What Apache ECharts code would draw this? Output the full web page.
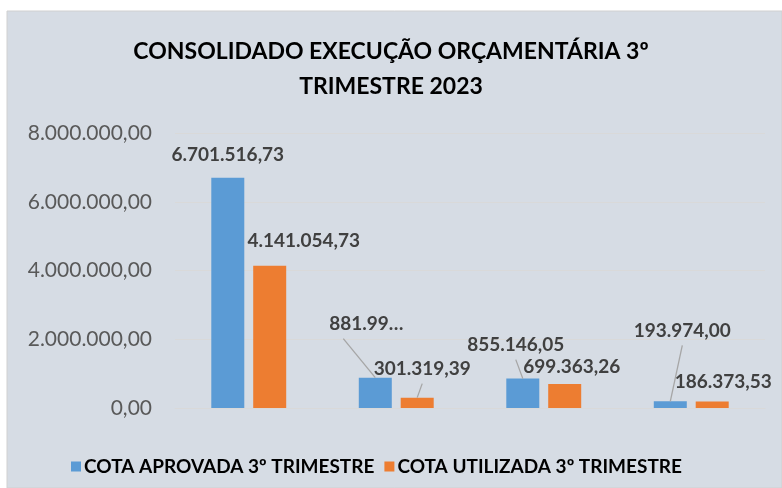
<!DOCTYPE html>
<html>
<head>
<meta charset="utf-8">
<script src="https://cdn.jsdelivr.net/npm/echarts@6/dist/echarts.min.js"></script>
<style>
  html, body { margin: 0; padding: 0; background: #fff; }
  #chart { width: 782px; height: 488px; }
</style>
</head>
<body>
<div id="chart"></div>
<script>
// dados do gráfico
var categorias = ['1', '2', '3', '4'];
var cotaAprovada = [6701516.73, 881990.00, 855146.05, 193974.00];
var cotaUtilizada = [4141054.73, 301319.39, 699363.26, 186373.53];
var rotuloAprovada = ['6.701.516,73', '881.99…', '855.146,05', '193.974,00'];
var rotuloUtilizada = ['4.141.054,73', '301.319,39', '699.363,26', '186.373,53'];
var nomesSeries = ['COTA APROVADA 3º TRIMESTRE', 'COTA UTILIZADA 3º TRIMESTRE'];

// deslocamento dos rótulos: [dx, dy, linha guia?, deslocamento x do início da linha]
var ajustes = [
  [[0, 0, false, 0], [-9, -31, true, -23], [-7, -11, true, 0], [12, -48, true, 0]],
  [[34, -2, false, 0], [5, -6, true, 0], [7, 5, false, 0], [11, 3, false, 0]]
];

var FONTE = 'Lato, "Noto Sans", sans-serif';
var LARG_BARRA = 33;
var GAP_BARRA = 0.27;
var DIST_ROTULO = 13;

function fmtBR(v) {
  var p = v.toFixed(2).split('.');
  return p[0].replace(/\B(?=(\d{3})+(?!\d))/g, '.') + ',' + p[1];
}

function montaDados(valores, rotulos) {
  return valores.map(function (v, i) {
    return { value: v, label: { formatter: rotulos[i] } };
  });
}

function layoutRotulo(params) {
  var a = ajustes[params.seriesIndex][params.dataIndex];
  return { dx: a[0], dy: a[1] };
}

// linhas guia: [categoria, valor, série]
var linhasGuia = [];
[cotaAprovada, cotaUtilizada].forEach(function (vals, s) {
  vals.forEach(function (v, i) {
    if (ajustes[s][i][2]) linhasGuia.push([i, v, s]);
  });
});

function desenhaLinha(params, api) {
  var cat = api.value(0), val = api.value(1), s = api.value(2);
  var a = ajustes[s][cat];
  var p = api.coord([cat, val]);
  var meio = LARG_BARRA * (1 + GAP_BARRA) / 2;
  var xb = p[0] + (s === 0 ? -meio : meio);
  var yb = p[1];
  var x0 = xb + a[0] + a[3];
  var y0 = yb - DIST_ROTULO + a[1] + 5;
  return {
    type: 'line',
    shape: { x1: x0, y1: y0, x2: xb, y2: yb },
    style: { stroke: '#A6A6A6', lineWidth: 1.3 }
  };
}

var rotuloBase = { show: true, position: 'top', distance: DIST_ROTULO, fontFamily: FONTE, fontWeight: 'bold', fontSize: 19, color: '#404040' };

var myChart = echarts.init(document.getElementById('chart'));

var option = {
  backgroundColor: '#ffffff',
  animation: false,
  graphic: [{
    type: 'rect', z: -10, silent: true,
    shape: { x: 7, y: 11, width: 775, height: 477 },
    style: { fill: '#D6DCE4', stroke: '#D0D0D0', lineWidth: 1 }
  }],
  title: {
    text: 'CONSOLIDADO EXECUÇÃO ORÇAMENTÁRIA 3º\nTRIMESTRE 2023',
    left: 'center',
    top: 29,
    textStyle: { fontFamily: FONTE, fontWeight: 'bold', fontSize: 23, color: '#000', lineHeight: 35 }
  },
  legend: {
    bottom: 12,
    left: 71,
    padding: 0,
    itemWidth: 10, itemHeight: 10, itemGap: 10,
    icon: 'rect',
    textStyle: { fontFamily: FONTE, fontWeight: 'bold', fontSize: 19, color: '#000', padding: [0, 0, 0, -2] },
    data: nomesSeries
  },
  grid: { left: 175, right: 17, top: 133, bottom: 80, containLabel: false },
  xAxis: {
    type: 'category',
    data: categorias,
    axisLine: { show: true, lineStyle: { color: '#D9D9D9', width: 1 } },
    axisTick: { show: false },
    axisLabel: { show: false }
  },
  yAxis: {
    type: 'value',
    min: 0, max: 8000000, interval: 2000000,
    axisLine: { show: false },
    axisTick: { show: false },
    splitLine: { lineStyle: { color: '#D9D9D9', width: 1 } },
    axisLabel: {
      fontFamily: FONTE, fontSize: 21, color: '#595959', margin: 23,
      formatter: function (v) { return fmtBR(v); }
    }
  },
  series: [
    {
      name: nomesSeries[0],
      type: 'bar',
      barWidth: LARG_BARRA,
      barGap: (GAP_BARRA * 100) + '%',
      itemStyle: { color: '#5B9BD5' },
      label: rotuloBase,
      labelLayout: layoutRotulo,
      data: montaDados(cotaAprovada, rotuloAprovada)
    },
    {
      name: nomesSeries[1],
      type: 'bar',
      barWidth: LARG_BARRA,
      itemStyle: { color: '#ED7D31' },
      label: rotuloBase,
      labelLayout: layoutRotulo,
      data: montaDados(cotaUtilizada, rotuloUtilizada)
    },
    {
      name: 'linhas',
      type: 'custom',
      silent: true,
      z: 5,
      renderItem: desenhaLinha,
      data: linhasGuia
    }
  ]
};

myChart.setOption(option);
</script>
</body>
</html>
